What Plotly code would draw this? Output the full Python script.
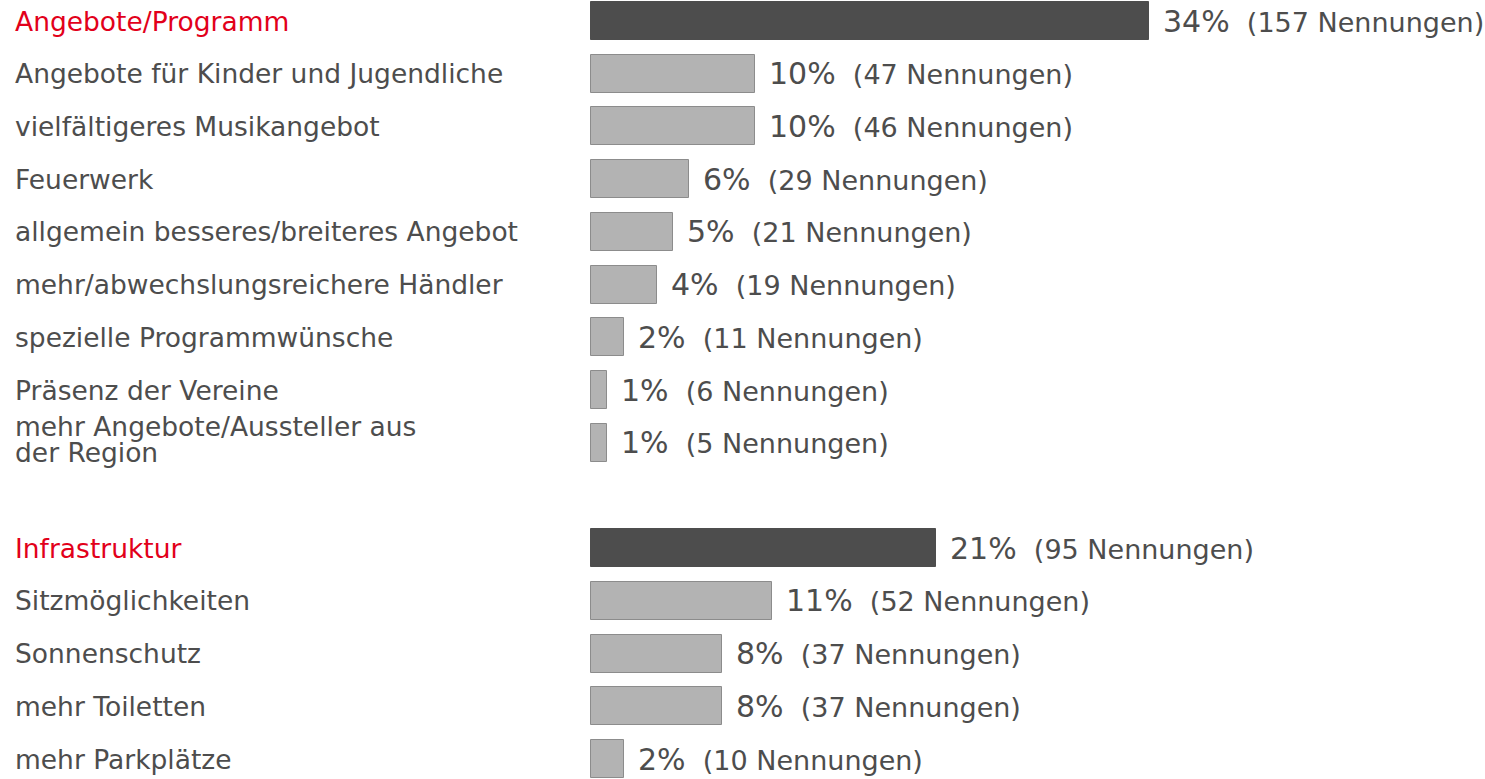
import plotly.graph_objects as go

labels = [
    "Angebote/Programm",
    "Angebote für Kinder und Jugendliche",
    "vielfältigeres Musikangebot",
    "Feuerwerk",
    "allgemein besseres/breiteres Angebot",
    "mehr/abwechslungsreichere Händler",
    "spezielle Programmwünsche",
    "Präsenz der Vereine",
    "mehr Angebote/Aussteller aus<br>der Region",
    "",
    "Infrastruktur",
    "Sitzmöglichkeiten",
    "Sonnenschutz",
    "mehr Toiletten",
    "mehr Parkplätze",
]
percents = [34, 10, 10, 6, 5, 4, 2, 1, 1, None, 21, 11, 8, 8, 2]
counts = [157, 47, 46, 29, 21, 19, 11, 6, 5, None, 95, 52, 37, 37, 10]
is_header = [True, False, False, False, False, False, False, False, False, False,
             True, False, False, False, False]

W, H = 1485, 779
x0_px = 591
px_per_pct = 16.41
first_center = 21
pitch = (759 - 21) / 14

xr = [-x0_px / px_per_pct, (W - x0_px) / px_per_pct]
yr = [14 + (H - 759) / pitch, -first_center / pitch]

DARK = "#4d4d4d"
LIGHT = "#b3b3b3"
TEXT = "#4d4d4d"
RED = "#e2001a"
FONT = "DejaVu Sans"
LABEL_SIZE = 26.5

ys, xs, fills, lines = [], [], [], []
for i, p in enumerate(percents):
    if p is None:
        continue
    ys.append(i)
    xs.append(p)
    fills.append(DARK if is_header[i] else LIGHT)
    lines.append(DARK if is_header[i] else "#8c8c8c")

fig = go.Figure()
fig.add_trace(go.Bar(
    x=xs, y=ys, orientation="h", width=0.72,
    marker=dict(color=fills, line=dict(color=lines, width=1)),
    hoverinfo="skip",
))

annotations = []
for i, lab in enumerate(labels):
    if lab:
        parts = lab.split("<br>")
        if len(parts) == 1:
            shifts = [0]
        else:
            shifts = [16, -10]
        for part, ysh in zip(parts, shifts):
            annotations.append(dict(
                x=14 / W, xref="paper", y=i, yref="y", xanchor="left", yanchor="middle",
                yshift=ysh, text=part, showarrow=False, align="left", borderpad=0,
                font=dict(family=FONT, size=LABEL_SIZE, color=RED if is_header[i] else TEXT),
            ))
    if percents[i] is not None:
        annotations.append(dict(
            x=percents[i], xref="x", y=i, yref="y", xanchor="left", yanchor="middle",
            xshift=12, yshift=0,
            text=(f"<span style='font-size:30px'>{percents[i]}%</span>"
                  f"  <span style='font-size:27px'>({counts[i]} Nennungen)</span>"),
            showarrow=False, font=dict(family=FONT, size=27, color=TEXT),
        ))

fig.update_layout(
    width=W, height=H,
    margin=dict(l=0, r=0, t=0, b=0),
    paper_bgcolor="white", plot_bgcolor="white",
    showlegend=False,
    xaxis=dict(range=xr, visible=False, fixedrange=True),
    yaxis=dict(range=yr, visible=False, fixedrange=True),
    annotations=annotations,
    bargap=0,
)

fig.write_html(
    "out.html",
    config={"displayModeBar": False},
    post_script="document.body.style.margin='0';document.body.style.overflow='hidden';",
)
